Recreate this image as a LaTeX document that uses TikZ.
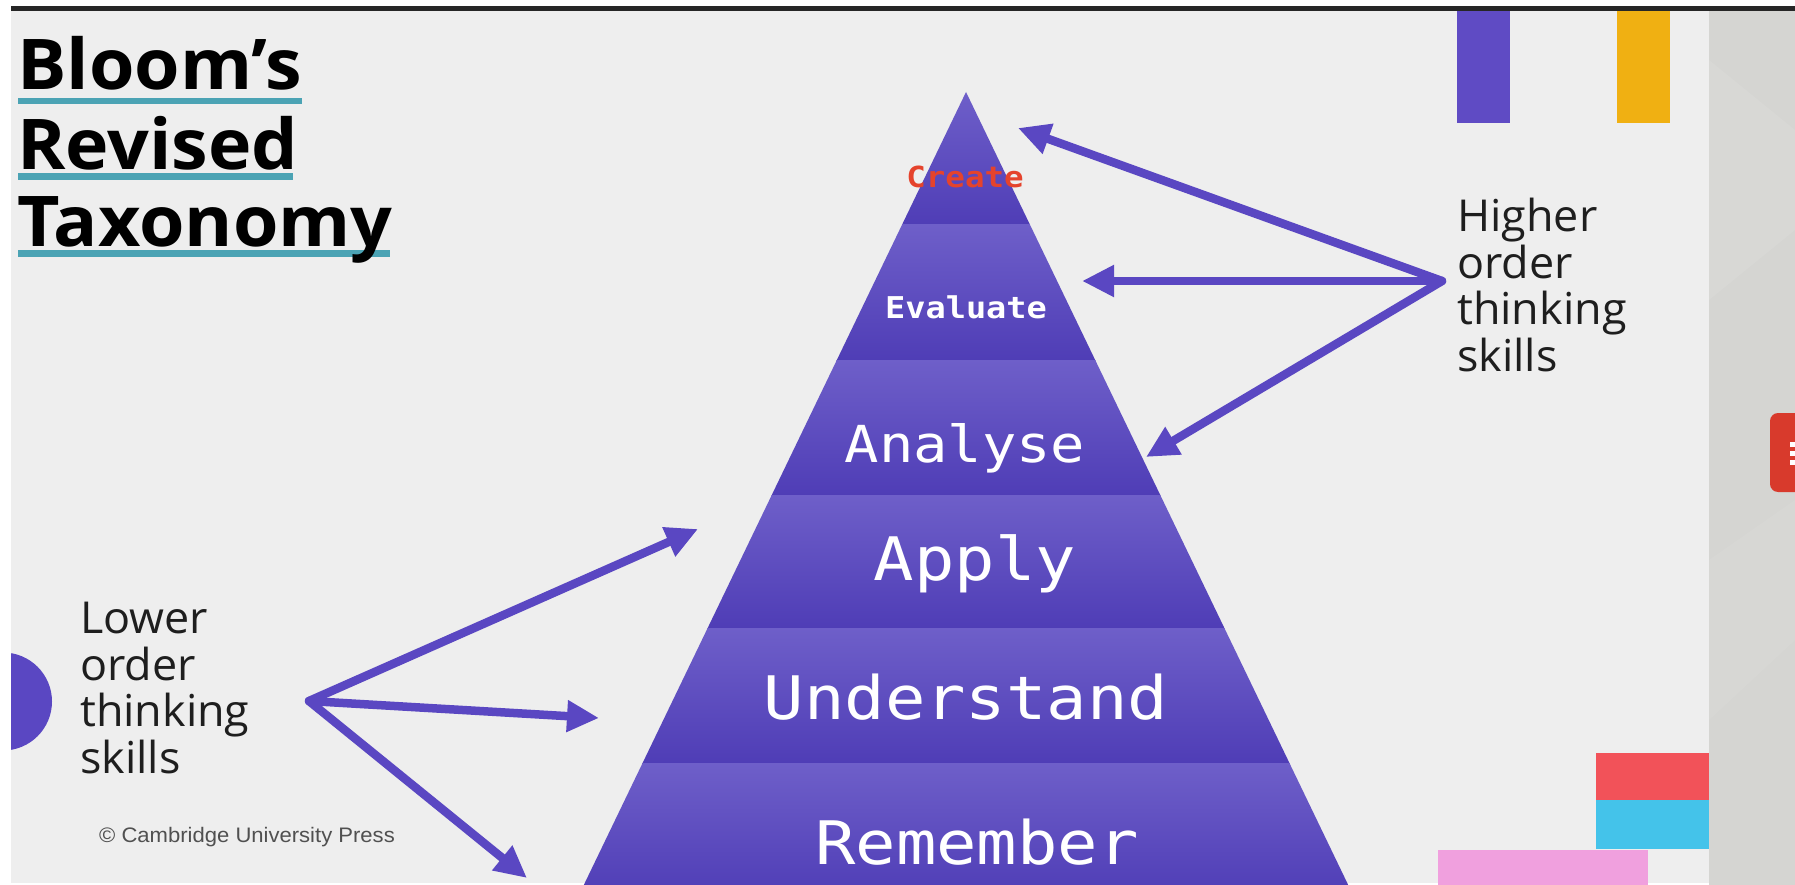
\documentclass[tikz,border=0pt]{standalone}
\usepackage{fontspec}
\usetikzlibrary{arrows.meta}

\newfontfamily\osans{Open Sans}[FakeStretch=1.02]
\newfontfamily\titlefont{Open Sans}[FakeStretch=1.05]
\newfontfamily\monofont{DejaVu Sans Mono}[FakeStretch=1.12]
\newfontfamily\arialfont{Liberation Sans}[FakeStretch=1.05]

\definecolor{slidebg}{HTML}{EEEEEE}
\definecolor{panelgray}{HTML}{D5D5D2}
\definecolor{topbar}{HTML}{262626}
\definecolor{bloompurple}{HTML}{5A47C2}
\definecolor{bandtop}{HTML}{6E5FC9}
\definecolor{bandmid}{HTML}{5C49C2}
\definecolor{bandbot}{HTML}{4F3DB6}
\definecolor{titleline}{HTML}{4BA3B4}
\definecolor{createred}{HTML}{E5432C}
\definecolor{barpurple}{HTML}{5F4BC4}
\definecolor{baryellow}{HTML}{F0B012}
\definecolor{blockred}{HTML}{F25259}
\definecolor{blockcyan}{HTML}{44C3EA}
\definecolor{blockpink}{HTML}{F0A0DE}
\definecolor{tabred}{HTML}{D83A2C}
\definecolor{textdark}{HTML}{1E1E1E}
\definecolor{creditgray}{HTML}{505050}

\tikzset{
  slidearrow/.style={draw=bloompurple, line width=8.5pt, line cap=round,
    -{Triangle[length=32pt,width=30pt]}},
  titletext/.style={anchor=base west, inner sep=0pt,
    font=\titlefont\bfseries\fontsize{70}{78}\selectfont, text=black},
  % multi-line captions are anchored at the baseline of their last line
  sidetext/.style={anchor=base west, inner sep=0pt, align=left,
    font=\osans\fontsize{44}{46.5}\selectfont, text=textdark},
  levellabel/.style={anchor=base, inner sep=0pt, text=white},
  band/.style={top color=bandtop, middle color=bandmid, bottom color=bandbot}
}

\begin{document}
\begin{tikzpicture}[x=1pt,y=-1pt]
  \useasboundingbox (0,0) rectangle (1795,885);
  % page, slide and side panel
  \fill[white] (0,0) rectangle (1795,885);
  \fill[slidebg] (11,11) rectangle (1709,883);
  \fill[panelgray] (1709,11) rectangle (1795,885);
  \fill[white, opacity=0.08] (1709,60) -- (1795,130) -- (1795,230) -- (1709,300) -- cycle;
  \fill[white, opacity=0.06] (1709,560) -- (1795,500) -- (1795,640) -- (1709,720) -- cycle;
  \fill[topbar] (11,6) rectangle (1795,11);

  % decorative blocks
  \fill[barpurple] (1457,11) rectangle (1510,123);
  \fill[baryellow] (1617,11) rectangle (1670,123);
  \fill[blockred] (1596,753) rectangle (1709,800);
  \fill[blockcyan] (1596,800) rectangle (1709,849);
  \fill[blockpink] (1438,850) rectangle (1648,885);
  \fill[tabred, rounded corners=8pt] (1770,413) rectangle (1805,492);
  \foreach \dy in {442,451,460} \fill[white] (1790,\dy) rectangle (1795,\dy+5);

  % half disc on the left edge
  \begin{scope}
    \clip (11,600) rectangle (120,800);
    \fill[bloompurple] (3,701.5) circle[radius=49];
  \end{scope}

  % title with underlines
  \fill[titleline] (18,98) rectangle (302,104);
  \fill[titleline] (18,173) rectangle (293,180);
  \fill[titleline] (18,250) rectangle (390,257);
  \node[titletext] (t1) at (17,90) {Bloom’s};
  \node[titletext] (t2) at (17,170) {Revised};
  \node[titletext] (t3) at (17,247) {Taxonomy};

  % pyramid bands
  \begin{scope}
    \clip (966,92) -- (1354,897) -- (578,897) -- cycle;
    \shade[band] (570,92) rectangle (1360,225);
    \shade[band] (570,225) rectangle (1360,360);
    \shade[band] (570,360) rectangle (1360,495);
    \shade[band] (570,495) rectangle (1360,628);
    \shade[band] (570,628) rectangle (1360,763);
    \shade[band] (570,763) rectangle (1360,897);
  \end{scope}

  % level labels
  \node[levellabel, text=createred, font=\monofont\bfseries\fontsize{29}{29}\selectfont]
    (create) at (965,188) {Create};
  \node[levellabel, font=\monofont\bfseries\fontsize{30}{30}\selectfont]
    (evaluate) at (966,318) {Evaluate};
  \node[levellabel, font=\monofont\fontsize{51}{51}\selectfont]
    (analyse) at (965,462) {Analyse};
  \node[levellabel, font=\monofont\fontsize{60}{60}\selectfont]
    (apply) at (975,580) {Apply};
  \node[levellabel, font=\monofont\fontsize{60}{60}\selectfont]
    (understand) at (966,719) {Understand};
  \node[levellabel, font=\monofont\fontsize{60}{60}\selectfont]
    (remember) at (977,864) {Remember};

  % side captions
  \node[sidetext] (higher) at (1457,371) {Higher\\order\\thinking\\skills};
  \node[sidetext] (lower) at (80,773) {Lower\\order\\thinking\\skills};
  \node[anchor=base west, inner sep=0pt, text=creditgray,
    font=\arialfont\fontsize{21}{21}\selectfont] (credit) at (99,842)
    {© Cambridge University Press};

  % arrow end points
  \coordinate (hiorigin) at (1442,281);
  \coordinate (tipcreate) at (1018,128);
  \coordinate (tipevaluate) at (1082,281);
  \coordinate (tipanalyse) at (1146,457);
  \coordinate (looorigin) at (309,701);
  \coordinate (tipapply) at (698,529);
  \coordinate (tipunderstand) at (599,718);
  \coordinate (tipremember) at (527,878);

  \draw[slidearrow] (hiorigin) -- (tipcreate);
  \draw[slidearrow] (hiorigin) -- (tipevaluate);
  \draw[slidearrow] (hiorigin) -- (tipanalyse);
  \draw[slidearrow] (looorigin) -- (tipapply);
  \draw[slidearrow] (looorigin) -- (tipunderstand);
  \draw[slidearrow] (looorigin) -- (tipremember);
\end{tikzpicture}
\end{document}
